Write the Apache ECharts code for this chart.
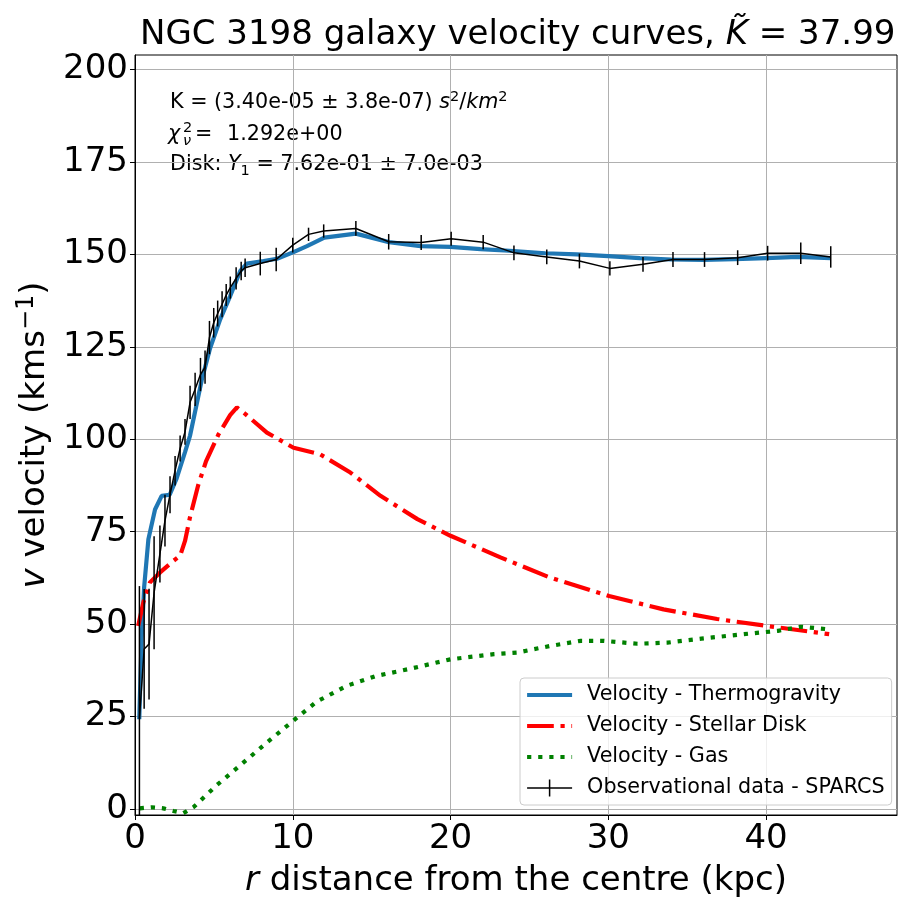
<!DOCTYPE html>
<html>
<head>
<meta charset="utf-8">
<script src="https://cdn.jsdelivr.net/npm/echarts@6/dist/echarts.min.js"></script>
<style>
html,body{margin:0;padding:0;background:#fff;}
#chart{width:898px;height:899px;}
</style>
</head>
<body>
<div id="chart"></div>
<script>
// ---- Data ----
const obsR = [0.28, 0.58, 0.89, 1.21, 1.58, 1.90, 2.22, 2.54, 2.86, 3.17, 3.49, 3.81, 4.15, 4.44, 4.72, 4.99, 5.24, 5.52, 5.78, 6.04, 6.41, 6.73, 6.98, 7.94, 8.95, 10.0, 11.0, 11.96, 14.0, 16.08, 18.14, 20.04, 22.07, 24.02, 26.1, 28.17, 30.1, 32.2, 34.1, 36.1, 38.2, 40.1, 42.2, 44.1];
const obsV = [24.4, 43.3, 44.6, 58.5, 69.0, 78.0, 85.0, 91.5, 97.5, 102.0, 110.0, 113.5, 117.5, 119.5, 127.5, 131.5, 134.0, 136.5, 139.0, 141.0, 143.5, 145.5, 146.4, 147.5, 148.6, 152.5, 155.4, 156.3, 157.0, 153.4, 153.2, 154.2, 153.3, 150.4, 149.3, 148.2, 146.2, 147.3, 148.6, 148.6, 149.1, 150.3, 150.3, 149.3];
const obsErr = [35.9, 16.2, 15.0, 15.3, 7.7, 7.0, 5.0, 4.0, 3.5, 3.5, 4.5, 4.5, 4.5, 4.5, 4.5, 4.0, 3.5, 3.5, 3.0, 3.0, 3.0, 2.5, 2.5, 3.2, 3.2, 2.0, 1.8, 1.8, 2.0, 2.1, 2.0, 1.9, 1.9, 2.0, 2.0, 2.0, 1.9, 2.0, 2.0, 2.0, 2.0, 2.0, 2.9, 2.9];

const thermoR = [0.27, 0.42, 0.58, 0.85, 1.27, 1.69, 2.2, 2.64, 3.17, 3.49, 3.81, 4.23, 4.76, 5.4, 6.03, 6.67, 7.09, 8.15, 9.0, 10.05, 10.9, 12.0, 14.0, 16.1, 18.1, 20.0, 21.9, 24.0, 26.0, 28.0, 30.0, 32.0, 34.0, 36.0, 38.0, 40.0, 42.0, 44.1];
const thermoV = [24.3, 46, 60, 73, 81, 84.7, 85, 89.4, 96.5, 101, 107.5, 116, 124.6, 132.4, 138.7, 145.5, 147.5, 148.2, 148.8, 150.6, 152.2, 154.5, 155.6, 153.3, 152.2, 152.0, 151.4, 150.9, 150.3, 150.0, 149.5, 149.0, 148.6, 148.5, 148.7, 149.0, 149.3, 149.0];

const diskR = [0.2, 0.53, 0.95, 1.59, 2.43, 2.86, 3.17, 3.49, 4.0, 4.5, 5.29, 6.03, 6.46, 7.0, 8.36, 10.05, 11.75, 13.65, 15.56, 17.9, 20.0, 23.2, 26.3, 30.05, 33.5, 36.9, 40.1, 44.0];
const diskV = [49.5, 55.9, 61.3, 64.0, 67.1, 68.5, 72.5, 79.0, 87.5, 94.0, 101.3, 106.5, 108.6, 106.8, 101.8, 97.7, 95.9, 91.0, 84.7, 78.4, 73.9, 68.0, 62.6, 57.6, 54.0, 51.4, 49.5, 47.3];

const gasR = [0.3, 1.06, 1.8, 2.43, 3.07, 3.7, 5.19, 6.77, 8.36, 9.95, 11.5, 13.4, 15.3, 17.5, 20.0, 22.75, 24.2, 26.3, 28.25, 29.7, 31.85, 33.75, 35.9, 38.6, 40.75, 42.2, 44.0];
const gasV = [0.2, 0.5, 0.2, -0.5, -1.1, 0.5, 6.5, 12.2, 18.0, 23.6, 29.0, 33.3, 36.0, 38.0, 40.5, 41.9, 42.3, 44.1, 45.5, 45.5, 44.7, 45.0, 46.1, 47.3, 48.2, 49.3, 48.6];

const xTicks = [0, 10, 20, 30, 40];
const yTicks = [0, 25, 50, 75, 100, 125, 150, 175, 200];

const X_MIN = 0, X_MAX = 48.3, Y_MIN = -1.6, Y_MAX = 203.9;

const FONT = 'DejaVu Sans';
const SMALL = 20.7;
const pairs = (xs, ys) => xs.map((x, i) => [x, ys[i]]);
const errData = obsR.map((r, i) => [r, Math.max(obsV[i] - obsErr[i], Y_MIN), Math.min(obsV[i] + obsErr[i], Y_MAX)]);

const chart = echarts.init(document.getElementById('chart'), null, {renderer: 'canvas'});

const obsIcon = 'path://M0,7.75 L21.75,7.75 L21.75,0 L23.25,0 L23.25,7.75 L45,7.75 L45,9.25 L23.25,9.25 L23.25,17 L21.75,17 L21.75,9.25 L0,9.25 Z';

const option = {
  animation: false,
  backgroundColor: '#ffffff',
  title: {
    left: 135, top: 13,
    text: '{n|NGC 3198 galaxy velocity curves, }{i|K\u0303}{n| = 37.99}',
    textStyle: {
      fontWeight: 'normal',
      rich: {
        n: {fontFamily: FONT, fontSize: 34, fontWeight: 'normal', color: '#000'},
        i: {fontFamily: FONT, fontSize: 34, fontWeight: 'normal', fontStyle: 'italic', color: '#000'}
      }
    }
  },
  grid: {left: 135, right: 1, top: 55, bottom: 84, outerBoundsMode: 'none', containLabel: false,
    show: true, borderColor: '#000', borderWidth: 1, backgroundColor: 'transparent'},
  xAxis: {
    type: 'value', min: X_MIN, max: X_MAX,
    name: '{i|r}{n| distance from the centre (kpc)}',
    nameLocation: 'middle', nameGap: 49,
    nameTextStyle: {
      rich: {
        n: {fontFamily: FONT, fontSize: 34, color: '#000'},
        i: {fontFamily: FONT, fontSize: 34, fontStyle: 'italic', color: '#000'}
      }
    },
    axisLine: {show: true, onZero: false, lineStyle: {color: '#000', width: 1}},
    axisTick: {show: true, length: 5, customValues: xTicks, lineStyle: {color: '#000', width: 1}},
    axisLabel: {customValues: xTicks, fontFamily: FONT, fontSize: 34, color: '#000', margin: 7},
    splitLine: {show: true, lineStyle: {color: '#b0b0b0', width: 1}}
  },
  yAxis: {
    type: 'value', min: Y_MIN, max: Y_MAX,
    name: '{i|v}{n| velocity (kms}{s|\u22121}{n|)}',
    nameLocation: 'middle', nameGap: 80,
    nameTextStyle: {
      rich: {
        n: {fontFamily: FONT, fontSize: 34, color: '#000', lineHeight: 40},
        i: {fontFamily: FONT, fontSize: 34, fontStyle: 'italic', color: '#000', lineHeight: 40},
        s: {fontFamily: FONT, fontSize: 24, color: '#000', verticalAlign: 'top', lineHeight: 40}
      }
    },
    axisLine: {show: true, onZero: false, lineStyle: {color: '#000', width: 1}},
    axisTick: {show: true, length: 5, customValues: yTicks, lineStyle: {color: '#000', width: 1}},
    axisLabel: {customValues: yTicks, fontFamily: FONT, fontSize: 34, color: '#000', margin: 7},
    splitLine: {show: true, lineStyle: {color: '#b0b0b0', width: 1}}
  },
  legend: {
    orient: 'vertical', left: 520, top: 678,
    itemWidth: 45, itemHeight: 17, itemGap: 9,
    padding: [6, 7, 6, 5],
    backgroundColor: 'rgba(255,255,255,0.8)',
    borderColor: '#cccccc', borderWidth: 1, borderRadius: 4,
    itemStyle: {opacity: 0},
    lineStyle: {width: 4.2},
    textStyle: {fontFamily: FONT, fontSize: SMALL, color: '#000', lineHeight: 22, padding: [0, 0, 0, 10]},
    data: [
      {name: 'Velocity - Thermogravity', lineStyle: {width: 4.2, color: '#1f77b4'}},
      {name: 'Velocity - Stellar Disk', lineStyle: {width: 4.2, color: '#ff0000', type: [26.7, 6.7, 4.2, 6.7]}},
      {name: 'Velocity - Gas', lineStyle: {width: 4.2, color: '#008000', type: [4.2, 6.9]}},
      {name: 'Observational data - SPARCS', icon: obsIcon, itemStyle: {opacity: 1, color: '#000'}}
    ]
  },
  graphic: [
    {type: 'text', x: 170, y: 103, style: {
      text: '{n|K = (3.40e-05 \u00b1 3.8e-07) }{i|s}{s|2}{n|/}{i|km}{s|2}',
      verticalAlign: 'middle',
      rich: {
        n: {fontFamily: FONT, fontSize: SMALL, fill: '#000', lineHeight: 26},
        i: {fontFamily: FONT, fontSize: SMALL, fontStyle: 'italic', fill: '#000', lineHeight: 26},
        s: {fontFamily: FONT, fontSize: 14.5, fill: '#000', verticalAlign: 'top', lineHeight: 26}
      }
    }},
    {type: 'text', x: 168, y: 135, style: {text: '\u03c7', fontFamily: FONT, fontSize: SMALL, fontStyle: 'italic', fill: '#000', verticalAlign: 'middle'}},
    {type: 'text', x: 183, y: 128, style: {text: '2', fontFamily: FONT, fontSize: 14.5, fill: '#000', verticalAlign: 'middle'}},
    {type: 'text', x: 183, y: 141, style: {text: '\u03bd', fontFamily: FONT, fontSize: 14.5, fontStyle: 'italic', fill: '#000', verticalAlign: 'middle'}},
    {type: 'text', x: 195, y: 135, style: {text: '=', fontFamily: FONT, fontSize: SMALL, fill: '#000', verticalAlign: 'middle'}},
    {type: 'text', x: 227, y: 135, style: {text: '1.292e+00', fontFamily: FONT, fontSize: SMALL, fill: '#000', verticalAlign: 'middle'}},
    {type: 'text', x: 170, y: 165, style: {
      text: '{n|Disk: }{i|\u03a5}{b|1}{n| = 7.62e-01 \u00b1 7.0e-03}',
      verticalAlign: 'middle',
      rich: {
        n: {fontFamily: FONT, fontSize: SMALL, fill: '#000', lineHeight: 28},
        i: {fontFamily: FONT, fontSize: SMALL, fontStyle: 'italic', fill: '#000', lineHeight: 28},
        b: {fontFamily: FONT, fontSize: 14.5, fill: '#000', verticalAlign: 'bottom', lineHeight: 28}
      }
    }}
  ],
  series: [
    {
      name: 'Velocity - Thermogravity', type: 'line', data: pairs(thermoR, thermoV),
      symbol: 'none', color: '#1f77b4', smooth: false,
      lineStyle: {color: '#1f77b4', width: 4.2}, z: 2
    },
    {
      name: 'Velocity - Stellar Disk', type: 'line', data: pairs(diskR, diskV),
      symbol: 'none', color: '#ff0000',
      lineStyle: {color: '#ff0000', width: 4.2, type: [26.7, 6.7, 4.2, 6.7]}, z: 2
    },
    {
      name: 'Velocity - Gas', type: 'line', data: pairs(gasR, gasV),
      symbol: 'none', color: '#008000',
      lineStyle: {color: '#008000', width: 4.2, type: [4.2, 6.9]}, z: 2
    },
    {
      name: 'Observational data - SPARCS', type: 'line', data: pairs(obsR, obsV),
      symbol: 'none', color: '#000000',
      lineStyle: {color: '#000000', width: 1.5}, z: 3
    },
    {
      name: 'Observational data - SPARCS', type: 'custom', data: errData, color: '#000000',
      clip: true, z: 3,
      encode: {x: 0, y: [1, 2]},
      renderItem: function (params, api) {
        const lo = api.coord([api.value(0), api.value(1)]);
        const hi = api.coord([api.value(0), api.value(2)]);
        return {type: 'line', shape: {x1: lo[0], y1: lo[1], x2: hi[0], y2: hi[1]}, style: {stroke: '#000', lineWidth: 1.5}};
      }
    }
  ]
};
chart.setOption(option);
</script>
</body>
</html>
